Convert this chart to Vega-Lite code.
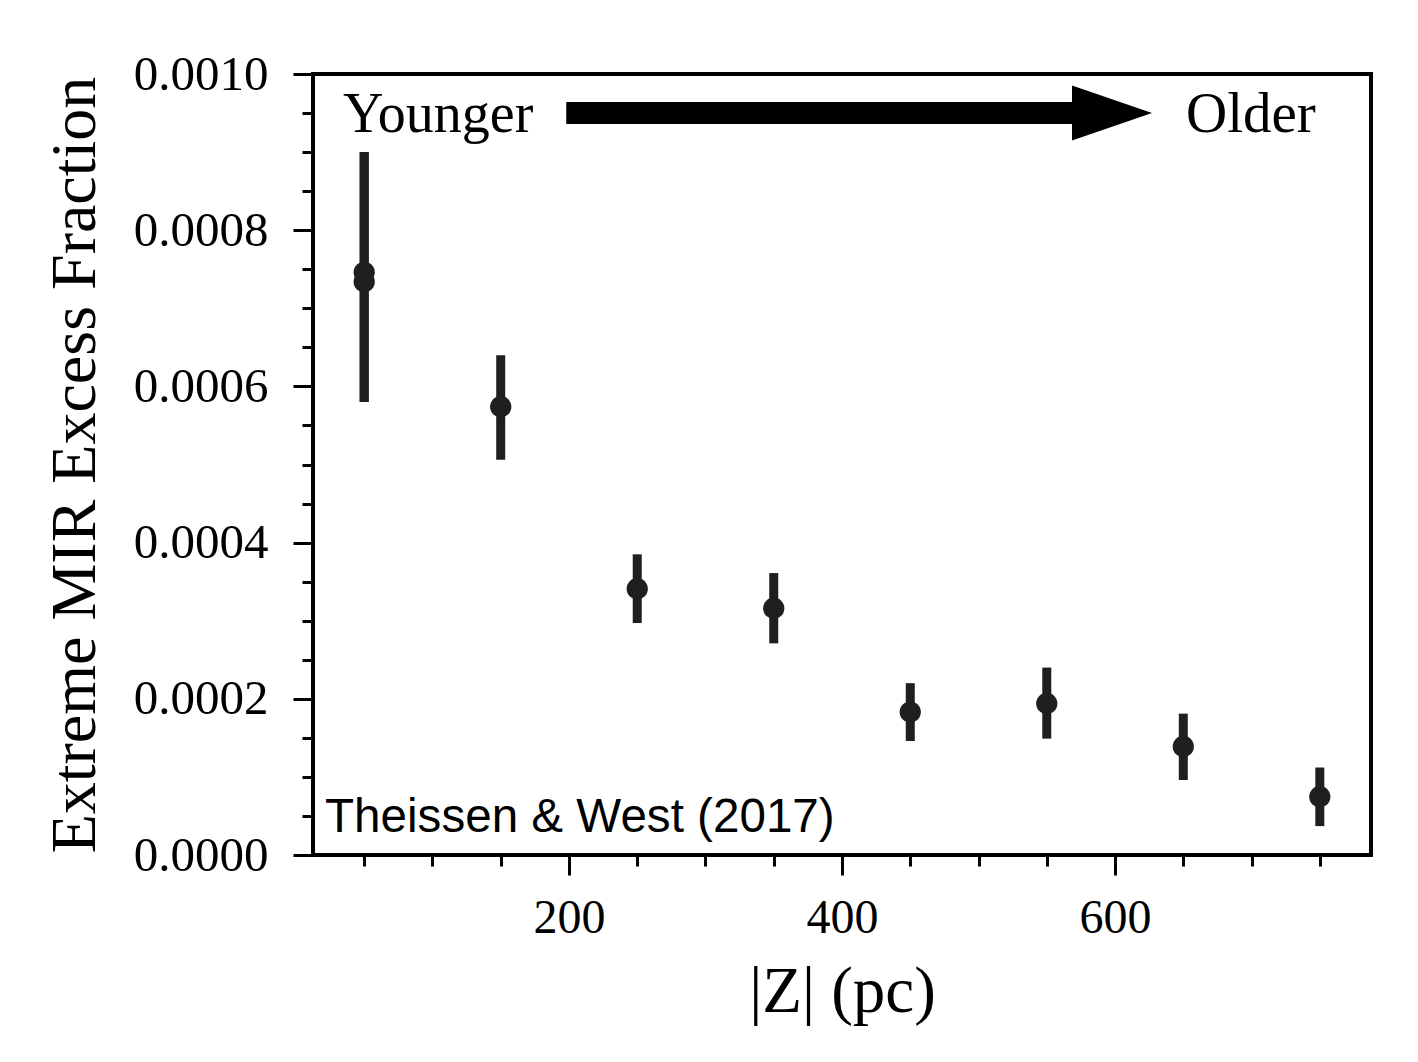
{
  "$schema": "https://vega.github.io/schema/vega-lite/v6.json",
  "width": 1058,
  "height": 781,
  "autosize": {"type": "none"},
  "padding": {"left": 313, "top": 74, "right": 47, "bottom": 207},
  "background": "white",
  "config": {
    "view": {"stroke": "black", "strokeWidth": 4},
    "font": "Liberation Serif"
  },
  "datasets": {
    "points": [
      {"z": 50, "frac": 0.000746, "lo": 0.00058, "hi": 0.0009},
      {"z": 50, "frac": 0.000734, "lo": 0.00058, "hi": 0.0009},
      {"z": 150, "frac": 0.000574, "lo": 0.000506, "hi": 0.00064},
      {"z": 250, "frac": 0.000341, "lo": 0.000297, "hi": 0.000385},
      {"z": 350, "frac": 0.000316, "lo": 0.000271, "hi": 0.000361},
      {"z": 450, "frac": 0.000183, "lo": 0.000146, "hi": 0.00022},
      {"z": 550, "frac": 0.000194, "lo": 0.000149, "hi": 0.00024},
      {"z": 650, "frac": 0.000139, "lo": 0.000096, "hi": 0.000181},
      {"z": 750, "frac": 0.0000747, "lo": 0.000037, "hi": 0.000112}
    ]
  },
  "layer": [
    {
      "data": {"name": "points"},
      "mark": {"type": "rule", "strokeWidth": 9, "color": "#1f1f1f", "strokeCap": "butt"},
      "encoding": {
        "x": {
          "field": "z",
          "type": "quantitative",
          "title": "|Z| (pc)",
          "scale": {"domain": [12.5, 787.5], "nice": false, "zero": false},
          "axis": {
            "values": [50, 100, 150, 200, 250, 300, 350, 400, 450, 500, 550, 600, 650, 700, 750],
            "tickCount": 40,
            "grid": false,
            "domain": false,
            "tickColor": "black",
            "tickWidth": 3,
            "tickSize": {"condition": {"test": "datum.value % 200 === 0", "value": 20}, "value": 11},
            "labelExpr": "datum.value % 200 === 0 ? datum.label : ''",
            "labelFont": "Liberation Serif",
            "labelFontSize": 48,
            "labelColor": "black",
            "labelPadding": 19,
            "labelOverlap": false,
            "labelFlush": false,
            "titleFont": "Liberation Serif",
            "titleFontSize": 65,
            "titleFontWeight": "normal",
            "titleColor": "black",
            "titlePadding": 18
          }
        },
        "y": {
          "field": "lo",
          "type": "quantitative",
          "title": "Extreme MIR Excess Fraction",
          "scale": {"domain": [0, 0.001], "nice": false},
          "axis": {
            "values": [0, 0.00005, 0.0001, 0.00015, 0.0002, 0.00025, 0.0003, 0.00035, 0.0004, 0.00045, 0.0005, 0.00055, 0.0006, 0.00065, 0.0007, 0.00075, 0.0008, 0.00085, 0.0009, 0.00095, 0.001],
            "tickCount": 40,
            "format": ".5f",
            "grid": false,
            "domain": false,
            "tickColor": "black",
            "tickWidth": 3,
            "tickSize": {"condition": {"test": "round(datum.value * 100000) % 20 === 0", "value": 20}, "value": 11},
            "labelExpr": "round(datum.value * 100000) % 20 === 0 ? format(datum.value, '.4f') : ''",
            "labelFont": "Liberation Serif",
            "labelFontSize": 49,
            "labelColor": "black",
            "labelPadding": 25,
            "labelOverlap": false,
            "labelFlush": false,
            "titleFont": "Liberation Serif",
            "titleFontSize": 64,
            "titleFontWeight": "normal",
            "titleColor": "black",
            "titlePadding": 26
          }
        },
        "y2": {"field": "hi"}
      }
    },
    {
      "data": {"name": "points"},
      "mark": {"type": "circle", "size": 452, "color": "#1f1f1f", "opacity": 1},
      "encoding": {
        "x": {"field": "z", "type": "quantitative"},
        "y": {"field": "frac", "type": "quantitative"}
      }
    },
    {
      "data": {"values": [{}]},
      "mark": {"type": "rule", "strokeWidth": 22, "color": "black", "strokeCap": "butt"},
      "encoding": {
        "x": {"datum": 198},
        "x2": {"datum": 580},
        "y": {"datum": 0.00095}
      }
    },
    {
      "data": {"values": [{}]},
      "mark": {"type": "point", "shape": "M-1,-0.6875L1,0L-1,0.6875Z", "size": 6400, "filled": true, "color": "black", "opacity": 1, "strokeWidth": 0},
      "encoding": {
        "x": {"datum": 597.8},
        "y": {"datum": 0.00095}
      }
    },
    {
      "data": {"values": [{}]},
      "mark": {"type": "text", "text": "Younger", "font": "Liberation Serif", "fontSize": 56, "align": "left", "baseline": "alphabetic", "color": "black"},
      "encoding": {
        "x": {"datum": 34.5},
        "y": {"datum": 0.000926}
      }
    },
    {
      "data": {"values": [{}]},
      "mark": {"type": "text", "text": "Older", "font": "Liberation Serif", "fontSize": 57, "align": "left", "baseline": "alphabetic", "color": "black"},
      "encoding": {
        "x": {"datum": 652},
        "y": {"datum": 0.000926}
      }
    },
    {
      "data": {"values": [{}]},
      "mark": {"type": "text", "text": "Theissen & West (2017)", "font": "Liberation Sans", "fontSize": 47.6, "align": "left", "baseline": "alphabetic", "color": "black"},
      "encoding": {
        "x": {"datum": 21.3},
        "y": {"datum": 0.0000294}
      }
    }
  ]
}
